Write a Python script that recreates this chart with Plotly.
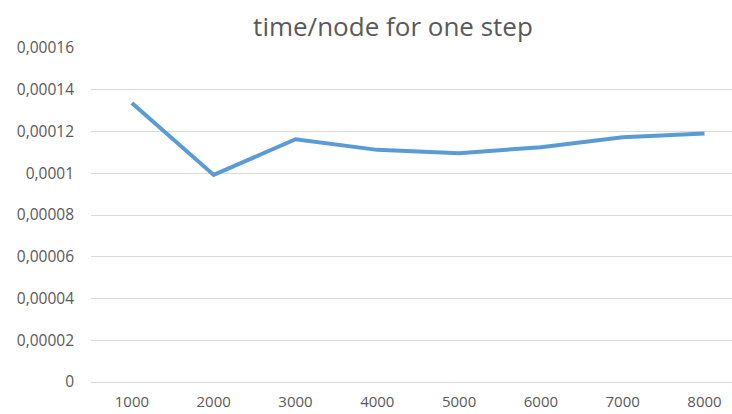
import plotly.graph_objects as go

# Problem sizes (categories) and measured time per node for a single step
nodes = ["1000", "2000", "3000", "4000", "5000", "6000", "7000", "8000"]
time_per_node = [0.0001336, 0.0000992, 0.0001163, 0.0001112,
                 0.0001096, 0.0001125, 0.0001173, 0.0001190]

# Y axis ticks, with comma as decimal separator
y_ticks = [0, 0.00002, 0.00004, 0.00006, 0.00008, 0.0001, 0.00012, 0.00014, 0.00016]
y_tick_text = ["0", "0,00002", "0,00004", "0,00006", "0,00008",
               "0,0001", "0,00012", "0,00014", "0,00016"]

W, H = 732, 414
FONT = "'Open Sans', sans-serif"
TEXT = "#595959"
GRID = "#D9D9D9"

fig = go.Figure(
    go.Scatter(
        x=nodes,
        y=time_per_node,
        mode="lines",
        line=dict(color="#5B9BD5", width=4),
        hoverinfo="x+y",
    )
)

fig.update_layout(
    width=W,
    height=H,
    margin=dict(l=91, r=0, t=48, b=32),
    paper_bgcolor="white",
    plot_bgcolor="white",
    showlegend=False,
    title=dict(
        text="time/node for one step",
        x=393 / W,
        xref="container",
        xanchor="center",
        y=1 - 27 / H,
        yref="container",
        yanchor="middle",
        font=dict(family=FONT, size=26, color=TEXT),
    ),
    xaxis=dict(
        type="category",
        range=[-0.5, -0.5 + 641 / 81.8],
        automargin=False,
        showgrid=False,
        zeroline=False,
        showline=False,
        ticks="",
        ticklabelstandoff=9,
        tickfont=dict(family=FONT, size=15, color=TEXT),
    ),
    yaxis=dict(
        range=[0, 0.00016],
        automargin=False,
        tickvals=y_ticks,
        ticktext=y_tick_text,
        showgrid=True,
        gridcolor=GRID,
        gridwidth=1,
        zeroline=True,
        zerolinecolor=GRID,
        zerolinewidth=1,
        showline=False,
        ticks="",
        ticklabelstandoff=16,
        tickfont=dict(family=FONT, size=15.5, color=TEXT),
    ),
)

fig.write_html("out.html")
